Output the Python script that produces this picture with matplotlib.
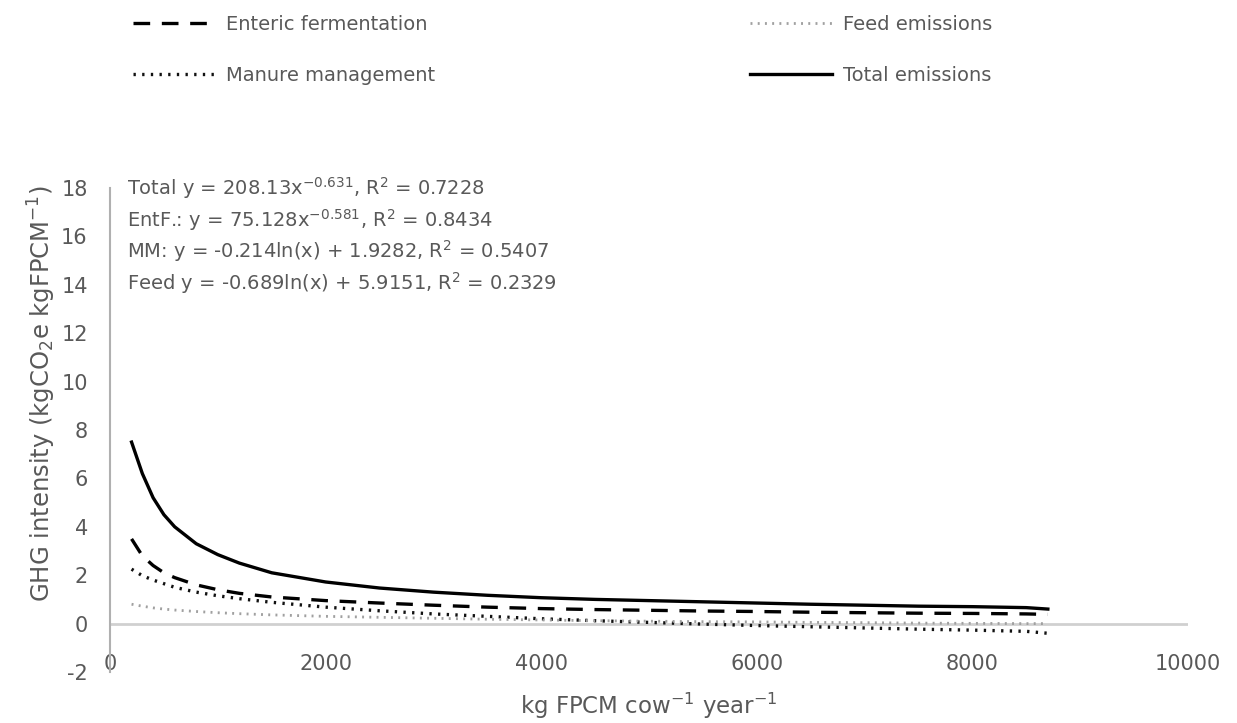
import matplotlib.pyplot as plt
import numpy as np

plt.rcParams['font.family'] = ['DejaVu Sans']
plt.rcParams['axes.unicode_minus'] = False
plt.rcParams['mathtext.default'] = 'regular'

### data
x_fpcm = [200, 300, 400, 500, 600, 800, 1000, 1200, 1500, 2000, 2500, 3000, 3500,
          4000, 4500, 5000, 5500, 6000, 6500, 7000, 7500, 8000, 8500, 8700]

total = [7.5, 6.2, 5.2, 4.5, 4.0, 3.3, 2.85, 2.5, 2.1, 1.72, 1.47, 1.3, 1.17,
         1.07, 1.0, 0.95, 0.9, 0.85, 0.8, 0.76, 0.72, 0.7, 0.66, 0.6]
enteric = [3.5, 2.8, 2.4, 2.1, 1.9, 1.6, 1.4, 1.25, 1.1, 0.95, 0.85, 0.76, 0.68,
           0.62, 0.58, 0.55, 0.52, 0.5, 0.47, 0.45, 0.43, 0.42, 0.4, 0.38]
manure = [2.25, 1.98, 1.8, 1.65, 1.5, 1.3, 1.15, 1.03, 0.88, 0.68, 0.53, 0.4, 0.3,
          0.2, 0.12, 0.05, -0.02, -0.08, -0.13, -0.18, -0.23, -0.27, -0.32, -0.4]
feed = [0.8, 0.72, 0.65, 0.6, 0.56, 0.5, 0.45, 0.41, 0.36, 0.3, 0.26, 0.22, 0.18,
        0.15, 0.12, 0.1, 0.08, 0.07, 0.05, 0.04, 0.02, 0.01, 0.0, 0.0]

eq_lines = ['Total y = 208.13x$^{-0.631}$, R$^{2}$ = 0.7228',
            'EntF.: y = 75.128x$^{-0.581}$, R$^{2}$ = 0.8434',
            'MM: y = -0.214ln(x) + 1.9282, R$^{2}$ = 0.5407',
            'Feed y = -0.689ln(x) + 5.9151, R$^{2}$ = 0.2329']

grey = '#595959'

fig = plt.figure(figsize=(12.37, 7.23), dpi=100)
ax = fig.add_axes([110/1237, 1-672/723, (1188-110)/1237, (672-188)/723])

l_ent, = ax.plot(x_fpcm, enteric, color='black', lw=2.4, ls=(0, (5, 3.5)),
                 label='Enteric fermentation')
l_man, = ax.plot(x_fpcm, manure, color='#111111', lw=2.4, ls=(0, (0.7, 1.9)),
                 label='Manure management')
l_feed, = ax.plot(x_fpcm, feed, color='#a0a0a0', lw=2.0, ls=(0, (0.7, 1.9)),
                  label='Feed emissions')
l_tot, = ax.plot(x_fpcm, total, color='black', lw=2.4, label='Total emissions')

ax.axhline(0, color='#d0d0d0', lw=2, zorder=0)

ax.set_xlim(0, 10000)
ax.set_ylim(-2, 18)
ax.set_xticks(np.arange(0, 10001, 2000))
ax.set_yticks(np.arange(-2, 19, 2))
for s in ['top', 'right', 'bottom']:
    ax.spines[s].set_visible(False)
ax.spines['left'].set_color('#b0b0b0')
ax.spines['left'].set_linewidth(1.5)
ax.tick_params(axis='both', length=0, labelsize=15, labelcolor=grey)
ax.tick_params(axis='y', pad=16)
ax.tick_params(axis='x', pad=-13)

ax.set_xlabel('kg FPCM cow$^{-1}$ year$^{-1}$', fontsize=16.5, color=grey, labelpad=12)
ax.set_ylabel('GHG intensity (kgCO$_{2}$e kgFPCM$^{-1}$)', fontsize=17.5, color=grey)
ax.yaxis.set_label_coords(-0.048, 0.576)

for i, t in enumerate(eq_lines):
    ax.text(158, 17.98 - i * 1.3, t, fontsize=14, color=grey, va='center')

fig.legend(handles=[l_ent, l_man, l_feed, l_tot], ncol=2, frameon=False,
           loc='upper left', bbox_to_anchor=(115/1237, 1.004), fontsize=14,
           handlelength=4.2, handletextpad=0.6, columnspacing=16.2,
           labelspacing=1.65, labelcolor=grey)

fig.savefig('out.png', dpi=100)
